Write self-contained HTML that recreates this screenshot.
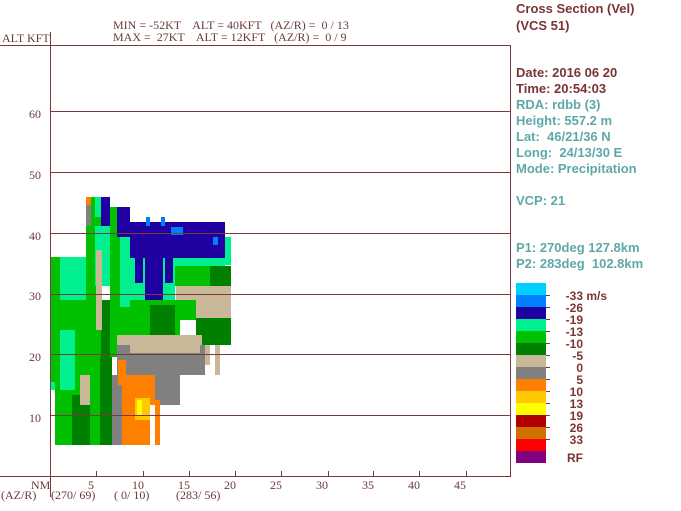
<!DOCTYPE html>
<html><head><style>
body{margin:0;background:#fff;width:681px;height:511px;overflow:hidden}
svg{display:block}
text{white-space:pre}
.s{font-family:"Liberation Serif",serif;font-size:12px;fill:#6b3a3a}
.r{font-family:"Liberation Sans",sans-serif;font-size:13px;font-weight:bold}
</style></head><body>
<svg width="681" height="511" xmlns="http://www.w3.org/2000/svg" xml:space="preserve">
<g shape-rendering="crispEdges">
<rect x="50" y="257" width="50" height="133" fill="#00f090"/>
<rect x="55" y="300" width="57" height="145" fill="#00c000"/>
<rect x="50" y="257" width="10" height="125" fill="#00c000"/>
<rect x="60" y="330" width="15" height="60" fill="#00f090"/>
<rect x="72" y="395" width="18" height="50" fill="#008000"/>
<rect x="80" y="375" width="10" height="30" fill="#c8b898"/>
<rect x="90" y="360" width="10" height="85" fill="#00c000"/>
<rect x="100" y="300" width="12" height="145" fill="#008000"/>
<rect x="86" y="197" width="15" height="160" fill="#00c000"/>
<rect x="86" y="197" width="5" height="8" fill="#ff8000"/>
<rect x="86" y="205" width="5" height="21" fill="#808080"/>
<rect x="95" y="197" width="6" height="20" fill="#00f090"/>
<rect x="101" y="197" width="9" height="29" fill="#2000a0"/>
<rect x="95" y="226" width="20" height="60" fill="#00f090"/>
<rect x="96" y="250" width="6" height="80" fill="#c8b898"/>
<rect x="110" y="207" width="20" height="150" fill="#00c000"/>
<rect x="117" y="207" width="13" height="30" fill="#2000a0"/>
<rect x="120" y="237" width="55" height="70" fill="#00f090"/>
<rect x="130" y="222" width="95" height="36" fill="#2000a0"/>
<rect x="145" y="258" width="18" height="45" fill="#2000a0"/>
<rect x="135" y="258" width="8" height="25" fill="#2000a0"/>
<rect x="165" y="258" width="8" height="25" fill="#2000a0"/>
<rect x="146" y="217" width="4" height="9" fill="#0080ff"/>
<rect x="161" y="217" width="4" height="9" fill="#0080ff"/>
<rect x="171" y="227" width="12" height="8" fill="#0080ff"/>
<rect x="213" y="237" width="5" height="8" fill="#0080ff"/>
<rect x="225" y="237" width="6" height="28" fill="#00f090"/>
<rect x="175" y="258" width="50" height="8" fill="#00f090"/>
<rect x="175" y="266" width="56" height="20" fill="#00c000"/>
<rect x="210" y="266" width="21" height="22" fill="#008000"/>
<rect x="130" y="300" width="50" height="40" fill="#00c000"/>
<rect x="150" y="305" width="25" height="35" fill="#008000"/>
<rect x="176" y="286" width="55" height="32" fill="#c8b898"/>
<rect x="176" y="300" width="20" height="20" fill="#00c000"/>
<rect x="196" y="318" width="35" height="27" fill="#008000"/>
<rect x="117" y="335" width="85" height="12" fill="#c8b898"/>
<rect x="117" y="345" width="88" height="30" fill="#808080"/>
<rect x="130" y="345" width="70" height="8" fill="#c8b898"/>
<rect x="205" y="345" width="5" height="20" fill="#c8b898"/>
<rect x="215" y="345" width="5" height="30" fill="#c8b898"/>
<rect x="117" y="375" width="63" height="30" fill="#808080"/>
<rect x="112" y="375" width="10" height="70" fill="#808080"/>
<rect x="122" y="375" width="33" height="70" fill="#ff8000"/>
<rect x="118" y="360" width="8" height="25" fill="#ff8000"/>
<rect x="135" y="398" width="15" height="22" fill="#ffc800"/>
<rect x="137" y="400" width="5" height="15" fill="#ffff00"/>
<rect x="150" y="405" width="5" height="40" fill="#fff"/>
<rect x="155" y="400" width="5" height="45" fill="#ff8000"/>
<g fill="#7a3a3a">
<rect x="50" y="111" width="460" height="1"/>
<rect x="50" y="172" width="460" height="1"/>
<rect x="50" y="233" width="460" height="1"/>
<rect x="50" y="294" width="460" height="1"/>
<rect x="50" y="354" width="460" height="1"/>
<rect x="50" y="415" width="460" height="1"/>
<rect x="0" y="45" width="510" height="1"/>
<rect x="0" y="476" width="510" height="1"/>
<rect x="50" y="32" width="1" height="465"/>
<rect x="510" y="45" width="1" height="432"/>
<rect x="96" y="471" width="1" height="5"/><rect x="143" y="471" width="1" height="5"/><rect x="189" y="471" width="1" height="5"/><rect x="235" y="471" width="1" height="5"/><rect x="281" y="471" width="1" height="5"/><rect x="328" y="471" width="1" height="5"/><rect x="373" y="471" width="1" height="5"/><rect x="419" y="471" width="1" height="5"/><rect x="466" y="471" width="1" height="5"/>
<rect x="546" y="295" width="4" height="1"/><rect x="546" y="307" width="4" height="1"/><rect x="546" y="319" width="4" height="1"/><rect x="546" y="331" width="4" height="1"/><rect x="546" y="343" width="4" height="1"/><rect x="546" y="355" width="4" height="1"/><rect x="546" y="367" width="4" height="1"/><rect x="546" y="379" width="4" height="1"/><rect x="546" y="391" width="4" height="1"/><rect x="546" y="403" width="4" height="1"/><rect x="546" y="415" width="4" height="1"/><rect x="546" y="427" width="4" height="1"/><rect x="546" y="439" width="4" height="1"/>
</g>
<rect x="516" y="283" width="30" height="12" fill="#00d0ff"/>
<rect x="516" y="295" width="30" height="12" fill="#0080ff"/>
<rect x="516" y="307" width="30" height="12" fill="#2000a0"/>
<rect x="516" y="319" width="30" height="12" fill="#00f090"/>
<rect x="516" y="331" width="30" height="12" fill="#00c000"/>
<rect x="516" y="343" width="30" height="12" fill="#008000"/>
<rect x="516" y="355" width="30" height="12" fill="#c8b898"/>
<rect x="516" y="367" width="30" height="12" fill="#808080"/>
<rect x="516" y="379" width="30" height="12" fill="#ff8000"/>
<rect x="516" y="391" width="30" height="12" fill="#ffc800"/>
<rect x="516" y="403" width="30" height="12" fill="#ffff00"/>
<rect x="516" y="415" width="30" height="12" fill="#b00000"/>
<rect x="516" y="427" width="30" height="12" fill="#d07000"/>
<rect x="516" y="439" width="30" height="12" fill="#ff0000"/>
<rect x="516" y="451" width="30" height="12" fill="#800080"/>
</g>
<g class="s">
<text x="2" y="42">ALT KFT</text>
<text x="113" y="29">MIN = -52KT    ALT = 40KFT   (AZ/R) =  0 / 13</text>
<text x="113" y="41">MAX =  27KT    ALT = 12KFT   (AZ/R) =  0 / 9</text>
<g text-anchor="middle">
<text x="35" y="118">60</text><text x="35" y="179">50</text><text x="35" y="240">40</text><text x="35" y="300">30</text><text x="35" y="361">20</text><text x="35" y="422">10</text>
<text x="91" y="489">5</text><text x="138" y="489">10</text><text x="184" y="489">15</text><text x="230" y="489">20</text><text x="276" y="489">25</text><text x="322" y="489">30</text><text x="368" y="489">35</text><text x="414" y="489">40</text><text x="460" y="489">45</text>
</g>
<text x="31" y="489">NM</text>
<text x="1" y="499">(AZ/R)</text>
<text x="51" y="499">(270/ 69)</text>
<text x="114" y="499">( 0/ 10)</text>
<text x="176" y="499">(283/ 56)</text>
</g>
<g class="r" fill="#7a3434">
<text x="516" y="13">Cross Section (Vel)</text>
<text x="516" y="30">(VCS 51)</text>
<text x="516" y="77">Date: 2016 06 20</text>
<text x="516" y="93">Time: 20:54:03</text>
</g>
<g class="r" fill="#5fa8a8">
<text x="516" y="109">RDA: rdbb (3)</text>
<text x="516" y="125">Height: 557.2 m</text>
<text x="516" y="141">Lat:  46/21/36 N</text>
<text x="516" y="157">Long:  24/13/30 E</text>
<text x="516" y="173">Mode: Precipitation</text>
<text x="516" y="205">VCP: 21</text>
<text x="516" y="252">P1: 270deg 127.8km</text>
<text x="516" y="268">P2: 283deg  102.8km</text>
</g>
<g class="r" fill="#7a3434" text-anchor="end" style="font-size:12px">
<text x="583" y="300">-33</text><text x="607" y="300">m/s</text>
<text x="583" y="312">-26</text><text x="583" y="324">-19</text><text x="583" y="336">-13</text><text x="583" y="348">-10</text><text x="583" y="360">-5</text><text x="583" y="372">0</text><text x="583" y="384">5</text><text x="583" y="396">10</text><text x="583" y="408">13</text><text x="583" y="420">19</text><text x="583" y="432">26</text><text x="583" y="444">33</text><text x="583" y="462">RF</text>
</g>
</svg>
</body></html>
